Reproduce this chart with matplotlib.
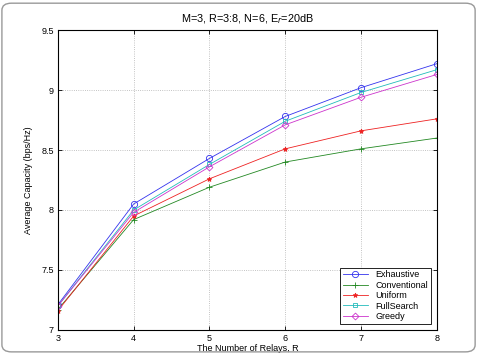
import numpy as np
import matplotlib.pyplot as plt
from matplotlib.patches import FancyBboxPatch

relays = [3, 4, 5, 6, 7, 8]
exhaustive = [7.21, 8.05, 8.43, 8.78, 9.02, 9.22]
conventional = [7.17, 7.92, 8.19, 8.40, 8.51, 8.60]
uniform = [7.16, 7.95, 8.26, 8.51, 8.66, 8.76]
fullsearch = [7.20, 8.00, 8.38, 8.74, 8.98, 9.17]
greedy = [7.20, 7.98, 8.36, 8.71, 8.94, 9.13]

plt.rcParams['font.family'] = 'Liberation Sans'
plt.rcParams['font.size'] = 6.5

fig = plt.figure(figsize=(4.78, 3.54), dpi=100)
# rounded frame around the figure
fig.patches.append(FancyBboxPatch((0.004, 0.006), 0.99, 0.985, boxstyle="round,pad=0,rounding_size=0.02",
                                  transform=fig.transFigure, fill=False, ec='#999999', lw=1.0))
ax = fig.add_axes([0.121, 0.068, 0.793, 0.847])

ax.plot(relays, exhaustive, '-o', color='#3333ee', lw=0.6, ms=4.5, mfc='none', mew=0.6, label='Exhaustive')
ax.plot(relays, conventional, '-+', color='#228822', lw=0.6, ms=4.5, mew=0.6, label='Conventional')
ax.plot(relays, uniform, '-*', color='#ee2222', lw=0.6, ms=3.5, mew=0.6, label='Uniform')
ax.plot(relays, fullsearch, '-s', color='#22bbbb', lw=0.6, ms=3.5, mfc='none', mew=0.6, label='FullSearch')
ax.plot(relays, greedy, '-D', color='#cc33cc', lw=0.6, ms=3.5, mfc='none', mew=0.6, label='Greedy')

ax.set_xlim(3, 8)
ax.set_ylim(7, 9.5)
ax.set_xticks(relays)
ax.set_yticks([7, 7.5, 8, 8.5, 9, 9.5])
ax.set_yticklabels(['7', '7.5', '8', '8.5', '9', '9.5'])
ax.tick_params(direction='in', length=3, width=0.6, top=True, right=True, pad=3)
ax.grid(True, ls=':', lw=0.6, color='#b0b0b0')
for s in ax.spines.values():
    s.set_linewidth(0.8)

ax.set_xlabel('The Number of Relays, R', labelpad=1)
ax.set_ylabel('Average Capacity (bps/Hz)', labelpad=6)
ax.set_title('M=3, R=3:8, N=6, E$_r$=20dB', pad=6)

leg = ax.legend(loc='lower right', fancybox=False, edgecolor='black', framealpha=1,
                handlelength=2.8, borderaxespad=0.7, labelspacing=0.15, borderpad=0.3)
leg.get_frame().set_linewidth(0.6)

fig.savefig('out.png', dpi=100)
